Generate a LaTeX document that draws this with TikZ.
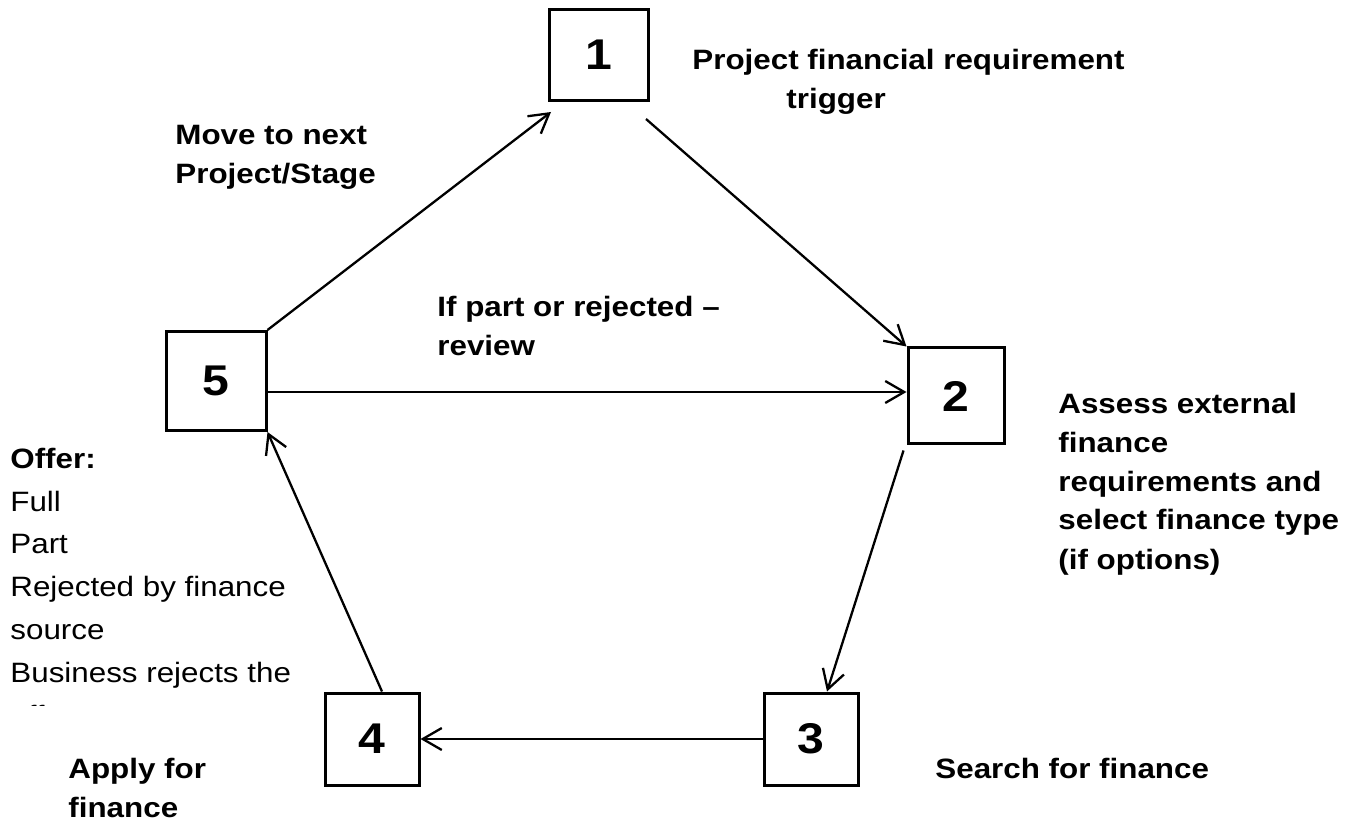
\documentclass[tikz,border=0pt]{standalone}
\usepackage{fontspec}
\setmainfont{Liberation Sans}[FakeStretch=1.12]
\usetikzlibrary{arrows.meta}
\tikzset{
  BoxStyle/.style = { rectangle, draw, line width=1.5pt, inner sep=0pt,
                      minimum width=47pt, minimum height=46pt,
                      font=\fontsize{21.5}{24}\selectfont\bfseries },
  LabelStyle/.style = { anchor=base west, align=left, inner sep=0pt,
                        font=\fontsize{14}{19.5}\selectfont\bfseries },
  EdgeStyle/.style = { line width=1.15pt,
                       -{Straight Barb[length=9.5pt,width=11pt]} } }

\begin{document}
\begin{tikzpicture}[x=0.5pt,y=-0.5pt]
  \useasboundingbox (0,0) rectangle (1360,828);

  % the five steps
  \node[BoxStyle, minimum width=49.5pt, minimum height=45.5pt] (n1) at (599,55) {1};
  \node[BoxStyle, minimum width=48pt, minimum height=48pt] (n2) at (956,396) {2};
  \node[BoxStyle] (n3) at (811,739) {3};
  \node[BoxStyle] (n4) at (372,739) {4};
  \node[BoxStyle, minimum width=50pt, minimum height=49.5pt] (n5) at (216,381) {5};

  % labels (placed at the baseline of their last line)
  \node[LabelStyle] (l1) at (692,109)
    {Project financial requirement\\\hspace*{47pt}trigger};
  \node[LabelStyle] (l2) at (1058,569)
    {Assess external\\finance\\requirements and\\select finance type\\(if options)};
  \node[LabelStyle] (l3) at (935,778) {Search for finance};
  \node[LabelStyle] (l4) at (68,817) {Apply for\\finance};
  \node[LabelStyle] (l5) at (175,184) {Move to next\\Project/Stage};
  \node[LabelStyle] (lr) at (437,356) {If part or rejected –\\review};

  % offer list, cut at the foot of its box
  \begin{scope}
    \clip (0,0) rectangle (320,705);
    \node[LabelStyle, font=\fontsize{14}{21.4}\selectfont] (lo) at (10,725)
      {\textbf{Offer:}\\Full\\Part\\Rejected by finance\\source\\Business rejects the\\offer};
  \end{scope}

  \draw[EdgeStyle] (n5.north east) -- ([shift={(3,10)}]n1.south west);
  \draw[EdgeStyle] ([shift={(-4,17)}]n1.south east) -- (n2.north west);
  \draw[EdgeStyle] (n5.east |- 0,392) -- (n2.west |- 0,392);
  \draw[EdgeStyle] ([shift={(-3,5)}]n2.south west) -- ([xshift=8]n3.north);
  \draw[EdgeStyle] (n3.west) -- (n4.east);
  \draw[EdgeStyle] ([xshift=5]n4.north) -- (n5.south east);
\end{tikzpicture}
\end{document}
